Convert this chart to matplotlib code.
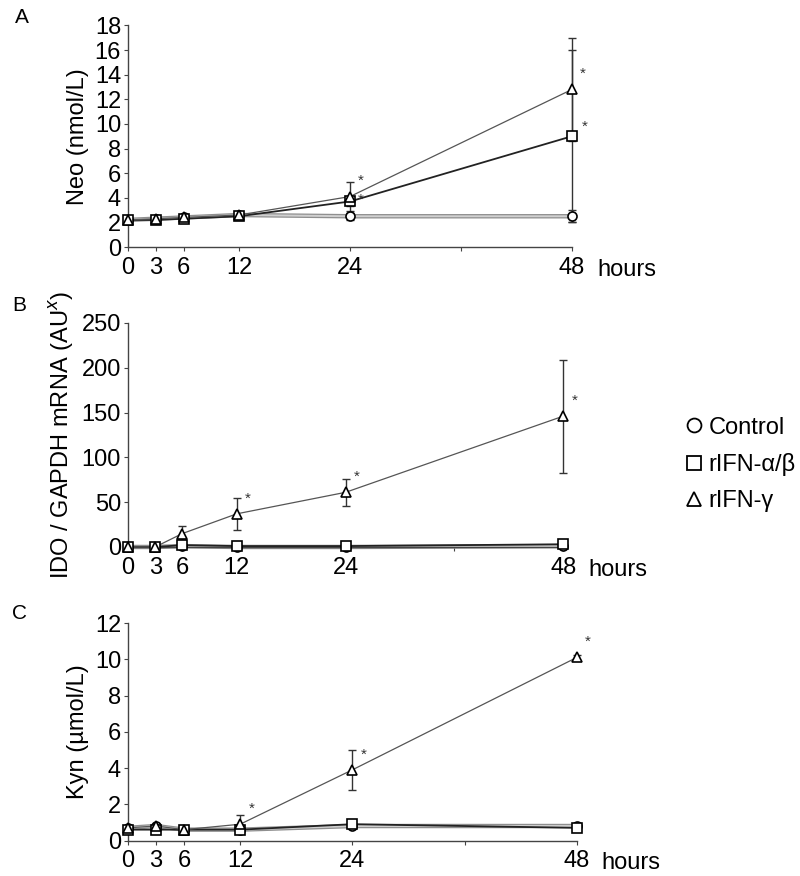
import matplotlib
matplotlib.use("Agg")
import matplotlib.pyplot as plt
from matplotlib.lines import Line2D

plt.rcParams['font.family'] = ['Liberation Sans', 'DejaVu Sans']

hours = [0, 3, 6, 12, 24, 48]
tick_labels = ["0", "3", "6", "12", "24", "48"]

# Panel A: Neopterin (nmol/L)
neo_control = [2.2, 2.3, 2.4, 2.6, 2.5, 2.5]
neo_control_err = [0.1, 0.2, 0.1, 0.1, 0.3, 0.5]
neo_ab = [2.2, 2.2, 2.3, 2.5, 3.7, 9.0]
neo_ab_err = [0.1, 0.2, 0.1, 0.2, 0.4, 7.0]
neo_g = [2.2, 2.3, 2.4, 2.6, 4.1, 12.8]
neo_g_err = [0.1, 0.2, 0.1, 0.2, 1.2, 4.2]
neo_star = [24, 48]

# Panel B: IDO / GAPDH mRNA
ido_control = [0, 0, 1, 0, 0, 1]
ido_control_err = [0, 0, 0, 0, 0, 0]
ido_ab = [0, 0, 2, 1, 1, 3]
ido_ab_err = [0, 0, 1, 0, 0, 1]
ido_g = [0, 0, 15, 37, 61, 146]
ido_g_err = [0, 0, 8, 18, 15, 63]
ido_star = [12, 24, 48]

# Panel C: Kynurenine (umol/L)
kyn_control = [0.7, 0.8, 0.6, 0.6, 0.8, 0.8]
kyn_control_err = [0.1, 0.1, 0.05, 0.1, 0.1, 0.1]
kyn_ab = [0.6, 0.6, 0.6, 0.6, 0.9, 0.7]
kyn_ab_err = [0.1, 0.1, 0.05, 0.1, 0.2, 0.1]
kyn_g = [0.7, 0.8, 0.6, 0.9, 3.9, 10.1]
kyn_g_err = [0.1, 0.1, 0.05, 0.5, 1.1, 0.15]
kyn_star = [12, 24, 48]

legend_labels = ["Control", "rIFN-\u03b1/\u03b2", "rIFN-\u03b3"]

fig = plt.figure(figsize=(8, 8.76), dpi=100)

panels = [
    dict(rect=[0.16, 0.718, 0.555, 0.253], ylim=18, yticks=range(0, 19, 2),
         ylabel="Neo (nmol/L)", data=(neo_control, neo_control_err, neo_ab, neo_ab_err, neo_g, neo_g_err),
         stars=neo_star, letter="A", lpos=(15, 8)),
    dict(rect=[0.16, 0.3756, 0.544, 0.2557], ylim=250, yticks=range(0, 251, 50),
         ylabel="IDO / GAPDH mRNA (AU$^{x}$)", data=(ido_control, ido_control_err, ido_ab, ido_ab_err, ido_g, ido_g_err),
         stars=ido_star, letter="B", lpos=(12, 296)),
    dict(rect=[0.16, 0.0405, 0.561, 0.2483], ylim=12, yticks=range(0, 13, 2),
         ylabel="Kyn (\u00b5mol/L)", data=(kyn_control, kyn_control_err, kyn_ab, kyn_ab_err, kyn_g, kyn_g_err),
         stars=kyn_star, letter="C", lpos=(12, 604)),
]

fs = 17
W, H = 800, 876
for p in panels:
    ax = fig.add_axes(p["rect"])
    c, ce, ab, abe, g, ge = p["data"]
    ax.plot(hours, c, color="#8f8f8f", lw=3.2, zorder=2, clip_on=False)
    ax.plot(hours, c, color="#d0d0d0", lw=1.4, zorder=2, clip_on=False)
    ax.plot(hours, ab, color="#222222", lw=1.3, zorder=3, clip_on=False)
    ax.plot(hours, g, color="#555555", lw=0.9, zorder=4, clip_on=False)
    for y, e, m in [(c, ce, "o"), (ab, abe, "s"), (g, ge, "^")]:
        ax.errorbar(hours, y, yerr=e, fmt="none", ecolor="#333333", elinewidth=1.0,
                    capsize=3, capthick=1.0, zorder=5, clip_on=False)
        ax.plot(hours, y, linestyle="none", marker=m, markersize=6.5, markerfacecolor="white",
                markeredgecolor="black", markeredgewidth=1.2, zorder=6, clip_on=False)
    for h in p["stars"]:
        i = hours.index(h)
        ax.annotate("*", xy=(h, g[i]), xytext=(8, 6), textcoords="offset points",
                    fontsize=11, ha="center", va="bottom", color="#333333")
    if p["letter"] == "A":
        i = hours.index(24)
        ax.annotate("*", xy=(24, neo_ab[i]), xytext=(8, -4), textcoords="offset points",
                    fontsize=11, ha="center", va="bottom", color="#333333")
        i = hours.index(48)
        ax.annotate("*", xy=(48, neo_ab[i]), xytext=(9, 2), textcoords="offset points",
                    fontsize=11, ha="center", va="bottom", color="#333333")

    ax.set_xlim(0, 48)
    ax.set_ylim(0, p["ylim"])
    ax.set_xticks(hours + [36])
    ax.set_xticklabels(tick_labels + [""])
    ax.set_yticks(list(p["yticks"]))
    ax.spines["top"].set_visible(False)
    ax.spines["right"].set_visible(False)
    for s in ["left", "bottom"]:
        ax.spines[s].set_color("#444444")
        ax.spines[s].set_linewidth(1.0)
    ax.tick_params(axis="both", labelsize=fs, length=3, width=0.8, colors="#444444",
                   labelcolor="black", pad=2)
    ax.tick_params(axis="x", pad=4)
    ax.set_ylabel(p["ylabel"], fontsize=fs, labelpad=4)
    ax.annotate("hours", xy=(1.0, 0), xycoords="axes fraction", xytext=(18, -8.5),
                textcoords="offset points", fontsize=fs, ha="left", va="top")
    lx, ly = p["lpos"]
    fig.text(lx / W, 1 - ly / H, p["letter"], fontsize=15, ha="left", va="top")
    ax.set_facecolor("none")

handles = [Line2D([], [], linestyle="none", marker=m, markersize=10, markerfacecolor="white",
                  markeredgecolor="black", markeredgewidth=1.3) for m in ["o", "s", "^"]]
fig.legend(handles, legend_labels, loc="center left", bbox_to_anchor=(0.83, 0.47),
           frameon=False, fontsize=fs, handlelength=0.7, handletextpad=0.3, labelspacing=0.6)

fig.savefig("out.png", dpi=100)
